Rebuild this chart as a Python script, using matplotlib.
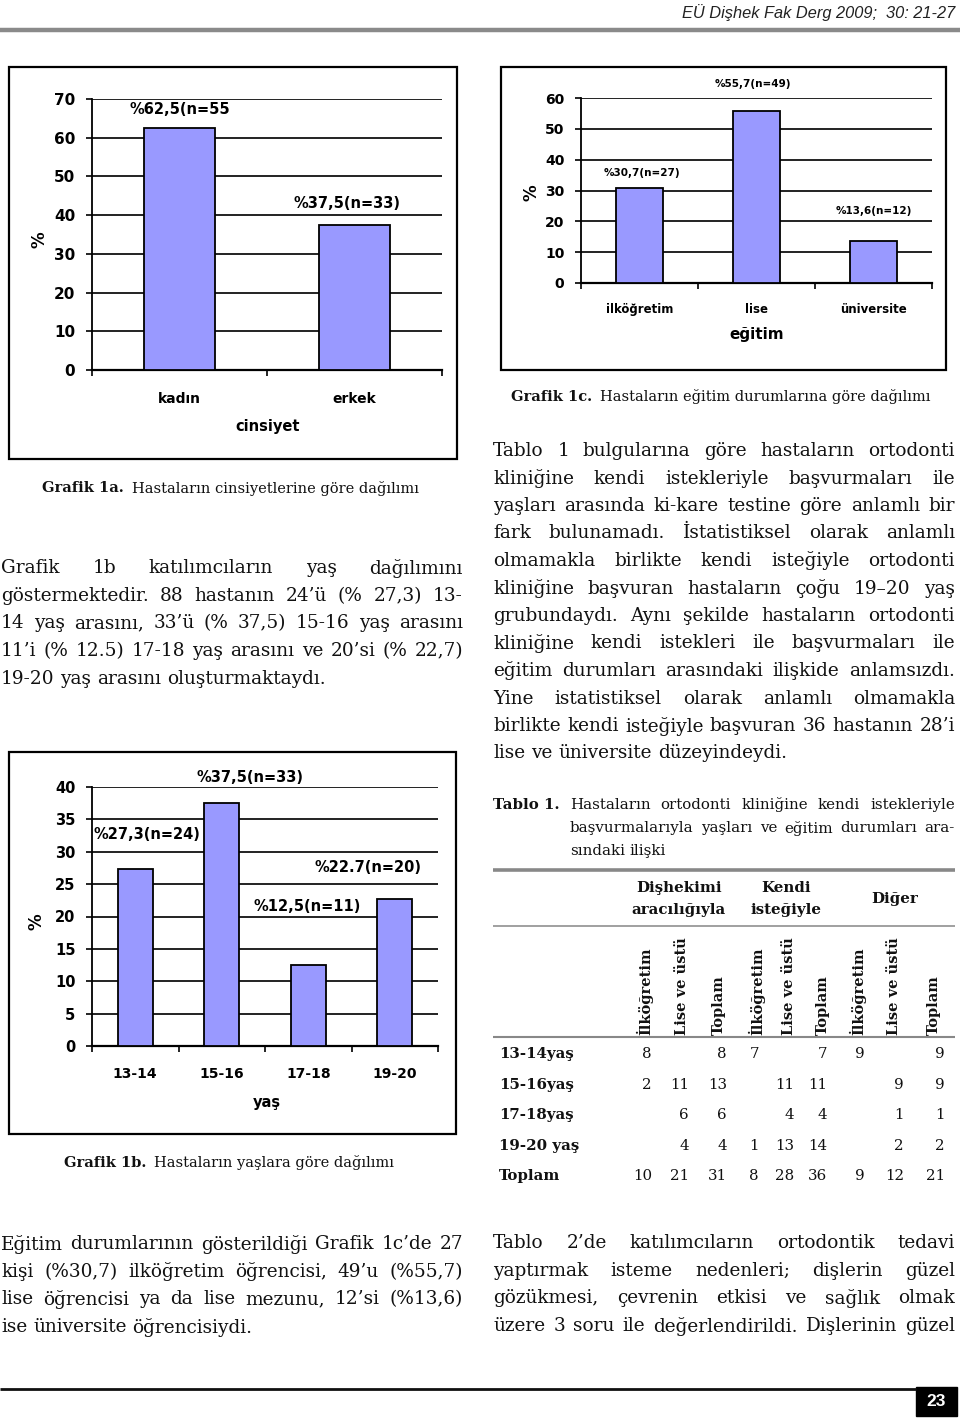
import numpy as np
import matplotlib
matplotlib.use("Agg")
import matplotlib.pyplot as plt
from matplotlib.patches import Rectangle

# ---------------- data ----------------
sex_cats = ["kadın", "erkek"]
sex_vals = [62.5, 37.5]
sex_labels = ["%62,5(n=55", "%37,5(n=33)"]

age_cats = ["13-14", "15-16", "17-18", "19-20"]
age_vals = [27.3, 37.5, 12.5, 22.7]
age_labels = ["%27,3(n=24)", "%37,5(n=33)", "%12,5(n=11)", "%22.7(n=20)"]

edu_cats = ["ilköğretim", "lise", "üniversite"]
edu_vals = [30.7, 55.7, 13.6]
edu_labels = ["%30,7(n=27)", "%55,7(n=49)", "%13,6(n=12)"]

table_rows = ["13-14yaş", "15-16yaş", "17-18yaş", "19-20 yaş", "Toplam"]
table_cols = ["İlköğretim", "Lise ve üstü", "Toplam"] * 3
table_groups = [["Dişhekimi", "aracılığıyla"], ["Kendi", "isteğiyle"], ["Diğer"]]
table_vals = [
    ["8", "", "8", "7", "", "7", "9", "", "9"],
    ["2", "11", "13", "", "11", "11", "", "9", "9"],
    ["", "6", "6", "", "4", "4", "", "1", "1"],
    ["", "4", "4", "1", "13", "14", "", "2", "2"],
    ["10", "21", "31", "8", "28", "36", "9", "12", "21"],
]

# ---------------- page setup ----------------
W, H = 960, 1418
fig = plt.figure(figsize=(W / 100, H / 100), dpi=100)
page = fig.add_axes([0, 0, 1, 1], zorder=0)
page.set_xlim(0, W)
page.set_ylim(H, 0)
page.axis("off")
renderer = fig.canvas.get_renderer()

SERIF = "DejaVu Serif"
CHART = "DejaVu Sans"
BAR = "#9999FF"


def twidth(t):
    return t.get_window_extent(renderer).width


def justify(line, x0, x1, y, size, weight="normal", last=False, family=SERIF):
    words = line.split()
    ts = [page.text(0, y, w, fontsize=size, family=family, weight=weight,
                    va="center", ha="left", color="#111") for w in words]
    ws = [twidth(t) for t in ts]
    if last or len(words) == 1:
        gap = 0.32 * size * 100 / 72
    else:
        gap = (x1 - x0 - sum(ws)) / (len(words) - 1)
    x = x0
    for t, w in zip(ts, ws):
        t.set_x(x)
        x += w + gap


def paragraph(lines, x0, x1, y0, dy, size, justify_last=False):
    for i, ln in enumerate(lines):
        last = (i == len(lines) - 1) and not justify_last
        justify(ln, x0, x1, y0 + i * dy, size, last=last)


def caption(x, y, bold, rest, size=10.5):
    t = page.text(x, y, bold, fontsize=size, family=SERIF, weight="bold", va="center", color="#111")
    w = twidth(t)
    page.text(x + w + 8, y, rest, fontsize=size, family=SERIF, va="center", color="#111")


def frame(l, t, r, b):
    page.add_patch(Rectangle((l, t), r - l, b - t, fill=False, ec="black", lw=1.6))


def bar_chart(l, t, r, b, cats, vals, labels, offs, ymax, ystep,
              xlab, xl_pos, yl_pos, tsize, xtsize, xlsize, lsize, xpad, ypad=8):
    ax = fig.add_axes([l / W, 1 - b / H, (r - l) / W, (b - t) / H], zorder=2)
    x = np.arange(len(cats))
    ax.bar(x, vals, width=0.41, color=BAR, edgecolor="black", linewidth=1.3, zorder=3)
    ax.set_xlim(-0.5, len(cats) - 0.5)
    ax.set_ylim(0, ymax)
    ax.set_yticks(np.arange(0, ymax + 0.1, ystep))
    ax.yaxis.grid(True, color="#111", lw=1.3)
    ax.set_axisbelow(True)
    for s in ("top", "right"):
        ax.spines[s].set_visible(False)
    ax.spines["left"].set_linewidth(1.3)
    ax.spines["bottom"].set_linewidth(1.6)
    ax.set_xticks(x)
    ax.set_xticklabels(cats, fontsize=xtsize, fontweight="bold", family=CHART)
    ax.set_xticks(np.arange(-0.5, len(cats), 1), minor=True)
    ax.tick_params(axis="x", which="major", length=0, pad=xpad)
    ax.tick_params(axis="x", which="minor", length=4, width=1.2, direction="out")
    ax.tick_params(axis="y", length=4, width=1.2, direction="out", pad=ypad,
                   labelsize=tsize)
    for lb in ax.get_yticklabels():
        lb.set_fontweight("bold")
        lb.set_family(CHART)
    ax.set_xlabel(xlab, fontsize=xlsize, fontweight="bold", family=CHART)
    ax.xaxis.set_label_coords(*xl_pos)
    ax.xaxis.label.set_va("center")
    ax.set_ylabel("%", fontsize=12, fontweight="bold", family=CHART)
    ax.yaxis.set_label_coords(*yl_pos)
    ax.yaxis.label.set_va("center")
    for i, (v, lab, (dx, dy)) in enumerate(zip(vals, labels, offs)):
        ax.text(i + dx, v + dy, lab, ha="center", va="center", fontsize=lsize,
                fontweight="bold", family=CHART, clip_on=False)
    return ax


# ---------------- header / footer ----------------
page.text(955, 13, "EÜ Dişhek Fak Derg 2009;  30: 21-27", ha="right", va="center",
          fontsize=11.8, style="italic", family=["Liberation Sans Narrow", "Liberation Sans"],
          color="#222")
page.plot([0, 960], [30, 30], color="#8a8a8a", lw=3.2, solid_capstyle="butt")
page.plot([0, 916], [1389, 1389], color="#111", lw=2.0, solid_capstyle="butt")
page.add_patch(Rectangle((916, 1387), 41, 29, color="black"))
page.text(936.5, 1402, "23", ha="center", va="center", color="white", fontsize=12.5,
          weight="bold", family=["Liberation Sans Narrow", "Liberation Sans"])

# ---------------- chart 1a ----------------
frame(9, 67, 457, 459)
bar_chart(92, 99, 442, 370, sex_cats, sex_vals, sex_labels,
          [(0.0, 4.7), (-0.04, 5.6)], 70, 10, "cinsiyet",
          (0.503, -0.21), (-0.149, 0.48), 11, 10, 10.5, 10.5, xpad=15.5)
caption(42, 488, "Grafik 1a.", "Hastaların cinsiyetlerine göre dağılımı")

# ---------------- chart 1c ----------------
frame(501, 67, 946, 370)
bar_chart(581, 98, 932, 283, edu_cats, edu_vals, edu_labels,
          [(0.02, 5.0), (-0.03, 8.8), (0.0, 9.8)], 60, 10, "eğitim",
          (0.501, -0.281), (-0.14, 0.486), 10, 8.5, 11, 7.5, xpad=14.5)
caption(511, 397, "Grafik 1c.", "Hastaların eğitim durumlarına göre dağılımı")

# ---------------- chart 1b ----------------
frame(9, 752, 456, 1134)
bar_chart(92, 787, 438, 1046, age_cats, age_vals, age_labels,
          [(0.136, 5.3), (0.327, 3.9), (-0.014, 9.0), (-0.31, 4.8)], 40, 5, "yaş",
          (0.506, -0.22), (-0.159, 0.479), 10.5, 10, 10.5, 10.5, xpad=15)
caption(64, 1163, "Grafik 1b.", "Hastaların yaşlara göre dağılımı")

# ---------------- body text ----------------
BODY = 13.3
left1 = [
    "Grafik 1b katılımcıların yaş dağılımını",
    "göstermektedir. 88 hastanın 24’ü (% 27,3) 13-",
    "14 yaş arasını, 33’ü (% 37,5) 15-16 yaş arasını",
    "11’i (% 12.5) 17-18 yaş arasını ve 20’si (% 22,7)",
    "19-20 yaş arasını oluşturmaktaydı.",
]
paragraph(left1, 1, 463, 568, 27.7, BODY)

right1 = [
    "Tablo 1 bulgularına göre hastaların ortodonti",
    "kliniğine kendi istekleriyle başvurmaları ile",
    "yaşları arasında ki-kare testine göre anlamlı bir",
    "fark bulunamadı. İstatistiksel olarak anlamlı",
    "olmamakla birlikte kendi isteğiyle ortodonti",
    "kliniğine başvuran hastaların çoğu 19–20 yaş",
    "grubundaydı. Aynı şekilde hastaların ortodonti",
    "kliniğine kendi istekleri ile başvurmaları ile",
    "eğitim durumları arasındaki ilişkide anlamsızdı.",
    "Yine istatistiksel olarak anlamlı olmamakla",
    "birlikte kendi isteğiyle başvuran 36 hastanın 28’i",
    "lise ve üniversite düzeyindeydi.",
]
paragraph(right1, 493, 955, 451, 27.5, BODY)

left2 = [
    "Eğitim durumlarının gösterildiği Grafik 1c’de 27",
    "kişi (%30,7) ilköğretim öğrencisi, 49’u (%55,7)",
    "lise öğrencisi ya da lise mezunu, 12’si (%13,6)",
    "ise üniversite öğrencisiydi.",
]
paragraph(left2, 1, 463, 1244, 27.7, BODY)

right2 = [
    "Tablo 2’de katılımcıların ortodontik tedavi",
    "yaptırmak isteme nedenleri; dişlerin güzel",
    "gözükmesi, çevrenin etkisi ve sağlık olmak",
    "üzere 3 soru ile değerlendirildi. Dişlerinin güzel",
]
paragraph(right2, 493, 955, 1243, 27.7, BODY, justify_last=True)

# ---------------- table ----------------
TS = 10.8
CS = 10.8
page.text(493, 805, "Tablo 1.", fontsize=CS, family=SERIF, weight="bold", va="center", color="#111")
justify("Hastaların ortodonti kliniğine kendi istekleriyle", 570, 955, 805, CS)
justify("başvurmalarıyla yaşları ve eğitim durumları ara-", 570, 955, 828, CS)
justify("sındaki ilişki", 570, 955, 851, CS, last=True)

page.plot([493, 955], [870, 870], color="#888", lw=2.6, solid_capstyle="butt")
page.plot([493, 955], [926, 926], color="#999", lw=1.3, solid_capstyle="butt")
page.plot([493, 955], [1037, 1037], color="#888", lw=1.5, solid_capstyle="butt")

group_x = [679, 786, 895]
for gx, g in zip(group_x, table_groups):
    if len(g) == 2:
        ys = [888, 910]
    else:
        ys = [899]
    for gy, s in zip(ys, g):
        page.text(gx, gy, s, ha="center", va="center", fontsize=TS, weight="bold",
                  family=SERIF, color="#111")

col_cx = [645, 682, 719, 757, 789, 823, 858, 894, 934]
col_right = [652, 689, 727, 759, 794, 827, 865, 904, 945]
for cx, c in zip(col_cx, table_cols):
    page.text(cx, 1035, c, rotation=90, rotation_mode="anchor", ha="left", va="center",
              fontsize=10.5, weight="bold", family=SERIF, color="#111")

row_y = [1054, 1085, 1115, 1146, 1176]
for ry, rname, vals in zip(row_y, table_rows, table_vals):
    page.text(499, ry, rname, ha="left", va="center", fontsize=TS, weight="bold",
              family=SERIF, color="#111")
    for xr, v in zip(col_right, vals):
        if v:
            page.text(xr, ry, v, ha="right", va="center", fontsize=TS, family=SERIF,
                      color="#111")

fig.savefig("out.png", dpi=100)
